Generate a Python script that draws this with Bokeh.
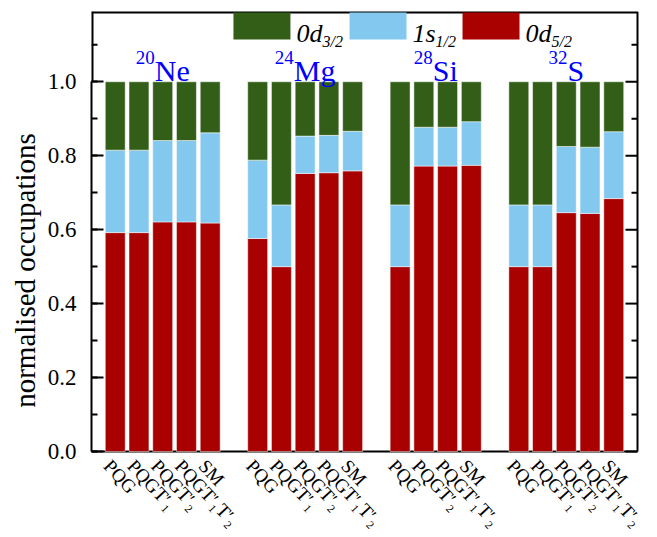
import math
import numpy as np
from bokeh.plotting import figure
from bokeh.models import (ColumnDataSource, Range1d, SingleIntervalTicker, PrintfTickFormatter)
from bokeh.core.properties import value
from bokeh.embed import file_html
from bokeh.resources import INLINE

# ---------------- data ----------------
nuclei = ["Ne", "Mg", "Si", "S"]
mass_numbers = ["20", "24", "28", "32"]

ne_models = ["PQG", "PQGT′₁", "PQGT′₂", "PQGT′₁T′₂", "SM"]
mg_models = ["PQG", "PQGT′₁", "PQGT′₂", "PQGT′₁T′₂", "SM"]
si_models = ["PQG", "PQGT′₂", "PQGT′₁T′₂", "SM"]
s_models = ["PQG", "PQGT′₁", "PQGT′₂", "PQGT′₁T′₂", "SM"]

# normalised occupations: 0d5/2 (bottom), 1s1/2 (middle), 0d3/2 (top)
ne_d52 = [0.592, 0.592, 0.621, 0.621, 0.618]
ne_s12 = [0.223, 0.223, 0.220, 0.220, 0.244]
ne_d32 = [0.185, 0.185, 0.159, 0.159, 0.138]

mg_d52 = [0.576, 0.500, 0.752, 0.754, 0.759]
mg_s12 = [0.212, 0.167, 0.101, 0.101, 0.107]
mg_d32 = [0.212, 0.333, 0.147, 0.145, 0.134]

si_d52 = [0.500, 0.772, 0.772, 0.774]
si_s12 = [0.167, 0.105, 0.105, 0.118]
si_d32 = [0.333, 0.123, 0.123, 0.108]

s_d52 = [0.500, 0.500, 0.646, 0.644, 0.684]
s_s12 = [0.167, 0.167, 0.179, 0.179, 0.181]
s_d32 = [0.333, 0.333, 0.175, 0.177, 0.135]

legend_main = ["0d", "1s", "0d"]
legend_sub = ["3/2", "1/2", "5/2"]

# ---------------- styles / layout ----------------
RED = "#A90000"
BLUE = "#83C8EF"
GREEN = "#325E18"
FONT = "'Liberation Serif', 'Times New Roman', serif"
W, H = 649, 529
B_LEFT, B_TOP = 91, 11
BOX_RIGHT_GAP = 12      # px between the drawn box and the canvas edge
BOX_BOTTOM = 451        # canvas px of the y = 0 line

groups = [
    (ne_models, ne_d52, ne_s12, ne_d32),
    (mg_models, mg_d52, mg_s12, mg_d32),
    (si_models, si_d52, si_s12, si_d32),
    (s_models, s_d52, s_s12, s_d32),
]

xs, labels, D52, S12, D32, centers = [], [], [], [], [], []
pos = 0
for mods, a, b, c in groups:
    start = pos
    for j in range(len(mods)):
        xs.append(pos)
        labels.append(mods[j])
        D52.append(a[j]); S12.append(b[j]); D32.append(c[j])
        pos += 1
    centers.append((start + pos - 1) / 2)
    pos += 1  # empty slot between groups

x_start, x_end = xs[0] - 1.0, xs[-1] + 1.0
y_top = 1.19
pitch = (W - B_LEFT - BOX_RIGHT_GAP) / (x_end - x_start)
ppu = (BOX_BOTTOM - B_TOP) / y_top
y_start = -(H - BOX_BOTTOM) / ppu

p = figure(width=W, height=H,
           x_range=Range1d(x_start, x_end + BOX_RIGHT_GAP / pitch),
           y_range=Range1d(y_start, y_top),
           output_backend="svg", toolbar_location=None, x_axis_location=None,
           min_border_left=B_LEFT, min_border_right=0,
           min_border_top=B_TOP, min_border_bottom=0,
           background_fill_color="white", border_fill_color="white",
           outline_line_color=None)
p.xgrid.visible = False
p.ygrid.visible = False

yt = SingleIntervalTicker(interval=0.2, num_minor_ticks=2)
ax = p.yaxis[0]
ax.ticker = yt
ax.formatter = PrintfTickFormatter(format="%.1f")
ax.bounds = (0, 1.0)
ax.major_tick_in = 12
ax.major_tick_out = 0
ax.minor_tick_in = 6
ax.minor_tick_out = 0
ax.major_tick_line_width = 2
ax.minor_tick_line_width = 2
ax.axis_line_width = 2
ax.axis_line_color = "black"
ax.major_tick_line_color = "black"
ax.minor_tick_line_color = "black"
ax.major_label_text_font = FONT
ax.major_label_text_font_size = "23px"
ax.major_label_text_color = "black"
ax.major_label_standoff = 15
ax.axis_label = "normalised occupations"
ax.axis_label_text_font = FONT
ax.axis_label_text_font_size = "29px"
ax.axis_label_text_font_style = "normal"
ax.axis_label_text_color = "black"
ax.axis_label_standoff = 4

# box: bottom (y=0), right, top and upper part of the left edge
p.segment(x0=[x_start, x_end], y0=[0, 0], x1=[x_end, x_end], y1=[0, y_top],
          line_width=2, line_color="black")
p.segment(x0=[x_start, x_start], y0=[y_top, 1.0], x1=[x_end, x_start], y1=[y_top, y_top],
          line_width=4, line_color="black")

# mirrored ticks on the right edge and the extra minor tick at 1.1 on the left
major_vals = np.round(np.arange(0, y_top, 0.2), 1)
minor_vals = np.round(np.arange(0.1, y_top, 0.2), 1)
p.ray(x=x_end, y=major_vals, length=12, length_units="screen", angle=math.pi,
      line_width=2, line_color="black")
p.ray(x=x_end, y=minor_vals, length=6, length_units="screen", angle=math.pi,
      line_width=2, line_color="black")
p.ray(x=x_start, y=minor_vals[minor_vals > 1.0], length=6, length_units="screen", angle=0,
      line_width=2, line_color="black")

# bars
src = ColumnDataSource(dict(x=xs, d52=D52, s12=S12, d32=D32))
p.vbar_stack(["d52", "s12", "d32"], x="x", width=0.84, color=[RED, BLUE, GREEN],
             source=src, line_color="white", line_alpha=0.5, line_width=1)

# group labels (mass number as superscript)
char_w = {"N": 0.722, "e": 0.444, "M": 0.889, "g": 0.5, "S": 0.556, "i": 0.278}
el_size, sup_size = 30, 19
xoff = []
for el, A in zip(nuclei, mass_numbers):
    w_el = sum(char_w[ch] for ch in el) * el_size
    w_sup = 0.5 * len(A) * sup_size
    xoff.append(-(w_el + w_sup) / 2 + w_sup)
gsrc = ColumnDataSource(dict(x=centers, el=nuclei, A=mass_numbers, xoff=xoff))
p.text(x="x", y=1.03, text="el", x_offset="xoff", source=gsrc, text_align="left",
       text_baseline="alphabetic", text_font=value(FONT), text_font_size="30px", text_color="blue")
p.text(x="x", y=1.03, text="A", x_offset="xoff", y_offset=-13, source=gsrc, text_align="right",
       text_baseline="alphabetic", text_font=value(FONT), text_font_size="19px", text_color="blue")

# legend (top, inside)
leg_left = [4.98, 9.87, 14.63]
leg_right = [v + 2.4 for v in leg_left]
p.quad(left=leg_left, right=leg_right, bottom=1.114, top=1.187, color=[GREEN, BLUE, RED], line_color=None)
lsrc = ColumnDataSource(dict(x=leg_right, main=legend_main, sub=legend_sub,
                             suboff=[6 + 26, 6 + 23, 6 + 26]))
p.text(x="x", y=1.13, text="main", x_offset=6, source=lsrc, text_align="left",
       text_baseline="alphabetic", text_font=value(FONT), text_font_size="26px",
       text_font_style="italic", text_color="black")
p.text(x="x", y=1.13, text="sub", x_offset="suboff", y_offset=8, source=lsrc, text_align="left",
       text_baseline="alphabetic", text_font=value(FONT), text_font_size="16px",
       text_font_style="italic", text_color="black")

# rotated category labels under the y = 0 line
tsrc = ColumnDataSource(dict(x=xs, t=labels))
p.text(x="x", y=0, text="t", source=tsrc, angle=-0.82, x_offset=-8, y_offset=11,
       text_align="left", text_baseline="middle", text_font=value(FONT),
       text_font_size="19px", text_color="black")

open("out.html", "w").write(file_html(p, INLINE))
